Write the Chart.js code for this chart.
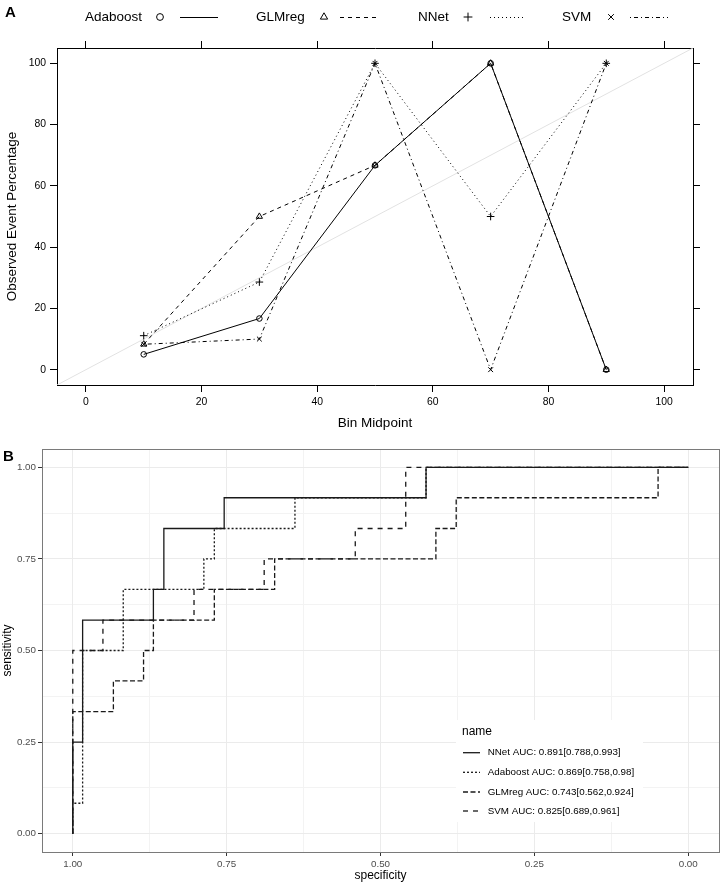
<!DOCTYPE html>
<html>
<head>
<meta charset="utf-8">
<script src="https://cdn.jsdelivr.net/npm/chart.js@4.4.1/dist/chart.umd.min.js"></script>
<style>
  html, body { margin: 0; padding: 0; background: #fff; }
  body { width: 720px; height: 883px; position: relative; overflow: hidden; font-family: "Liberation Sans", Arial, sans-serif; }
  #boxA { position: absolute; left: 0; top: 0; width: 720px; height: 440px; }
  #boxB { position: absolute; left: 0; top: 440px; width: 720px; height: 443px; }
  .tag { position: absolute; font-weight: bold; font-size: 15px; line-height: 15px; }
</style>
</head>
<body>
<div id="boxA"><canvas id="calChart"></canvas></div>
<div id="boxB"><canvas id="rocChart"></canvas></div>
<div class="tag" style="left:5px;top:4px">A</div>
<div class="tag" style="left:3px;top:448px">B</div>
<script>
// --- panel A: calibration (observed % per bin) ---
const binMid      = [10, 30, 50, 70, 90];
const adaboostObs = [5, 16.7, 66.7, 100, 0];
const glmregObs   = [8.3, 50, 66.7, 100, 0];
const nnetObs     = [11.1, 28.6, 100, 50, 100];
const svmObs      = [8.3, 10, 100, 0, 100];
const calTicks    = [0, 20, 40, 60, 80, 100];
const refLine     = [-5, 105];

// --- panel B: ROC curves (specificity, sensitivity at each step) ---
const rocTicks = [0, 0.25, 0.5, 0.75, 1];
const rocMinor = [0.125, 0.375, 0.625, 0.875];

const nnetSpec = [1, 1, 0.984, 0.984, 0.869, 0.869, 0.852, 0.852, 0.754, 0.754, 0.426, 0.426, 0];
const nnetSens = [0, 0.25, 0.25, 0.583, 0.583, 0.667, 0.667, 0.833, 0.833, 0.917, 0.917, 1, 1];

const adaSpec = [1, 1, 0.984, 0.984, 0.918, 0.918, 0.787, 0.787, 0.770, 0.770, 0.639, 0.639, 0.426, 0.426, 0];
const adaSens = [0, 0.083, 0.083, 0.5, 0.5, 0.667, 0.667, 0.75, 0.75, 0.833, 0.833, 0.917, 0.917, 1, 1];

const glmSpec = [1, 1, 0.934, 0.934, 0.885, 0.885, 0.869, 0.869, 0.770, 0.770, 0.672, 0.672, 0.410, 0.410, 0.377, 0.377, 0.049, 0.049, 0];
const glmSens = [0, 0.333, 0.333, 0.417, 0.417, 0.5, 0.5, 0.583, 0.583, 0.667, 0.667, 0.75, 0.75, 0.833, 0.833, 0.917, 0.917, 1, 1];

const svmSpec = [1, 1, 0.951, 0.951, 0.803, 0.803, 0.689, 0.689, 0.541, 0.541, 0.459, 0.459, 0];
const svmSens = [0, 0.5, 0.5, 0.583, 0.583, 0.667, 0.667, 0.75, 0.75, 0.833, 0.833, 1, 1];

const rocLabels = [
    'NNet AUC: 0.891[0.788,0.993]',
    'Adaboost AUC: 0.869[0.758,0.98]',
    'GLMreg AUC: 0.743[0.562,0.924]',
    'SVM AUC: 0.825[0.689,0.961]'
];

const FONT = '"Liberation Sans", Arial, Helvetica, sans-serif';
Chart.defaults.font.family = FONT;
Chart.defaults.animation = false;

const pts = (xs, ys) => xs.map((x, i) => ({ x: x, y: ys[i] }));
const setTicks = list => scale => { scale.ticks = list.map(v => ({ value: v })); };

// lattice style key on top of panel A: "label  marker  line"
const latticeKey = {
    id: 'latticeKey',
    afterDraw(chart, args, o) {
        const ctx = chart.ctx;
        ctx.save();
        ctx.font = o.fontSize + 'px ' + FONT;
        ctx.textBaseline = 'middle';
        ctx.textAlign = 'left';
        chart.data.datasets.filter(d => !d.keyless).forEach((ds, i) => {
            const c = o.cols[i];
            ctx.fillStyle = '#000';
            ctx.fillText(ds.label, c[0], o.y);
            ctx.strokeStyle = '#000';
            ctx.fillStyle = 'rgba(0,0,0,0)';
            ctx.lineWidth = 1;
            ctx.setLineDash([]);
            Chart.helpers.drawPoint(ctx, { pointStyle: ds.pointStyle, radius: ds.pointRadius + 0.6, rotation: 0, borderWidth: 1 }, c[1], o.y);
            ctx.setLineDash(ds.borderDash);
            ctx.beginPath();
            ctx.moveTo(c[2], o.y + 0.5);
            ctx.lineTo(c[3], o.y + 0.5);
            ctx.stroke();
        });
        ctx.restore();
    }
};

// ggplot style legend inside panel B
const rocKey = {
    id: 'rocKey',
    afterDraw(chart, args, o) {
        const ctx = chart.ctx;
        ctx.save();
        ctx.fillStyle = '#fff';
        ctx.fillRect(o.box[0], o.box[1], o.box[2], o.box[3]);
        ctx.fillStyle = '#000';
        ctx.textBaseline = 'middle';
        ctx.font = '12px ' + FONT;
        ctx.fillText(o.title, o.titleX, o.titleY);
        ctx.font = '9.8px ' + FONT;
        chart.data.datasets.forEach((ds, i) => {
            const y = o.rows[i];
            ctx.strokeStyle = ds.borderColor;
            ctx.lineWidth = ds.borderWidth;
            ctx.setLineDash(ds.borderDash);
            ctx.beginPath();
            ctx.moveTo(o.keyX[0], y);
            ctx.lineTo(o.keyX[1], y);
            ctx.stroke();
            ctx.fillStyle = '#000';
            ctx.fillText(ds.label, o.textX, y);
        });
        ctx.restore();
    }
};

// ---------- panel A ----------
const calDatasets = [
    { label: 'Adaboost', data: pts(binMid, adaboostObs), pointStyle: 'circle',   pointRadius: 2.8, borderDash: [],           order: 4 },
    { label: 'GLMreg',   data: pts(binMid, glmregObs),   pointStyle: 'triangle', pointRadius: 3.6, borderDash: [4, 4],       order: 3 },
    { label: 'NNet',     data: pts(binMid, nnetObs),     pointStyle: 'cross',    pointRadius: 3.8, borderDash: [1, 3],       order: 2 },
    { label: 'SVM',      data: pts(binMid, svmObs),      pointStyle: 'crossRot', pointRadius: 3.4, borderDash: [1, 3, 4, 3], order: 1 }
].map(d => Object.assign({
    showLine: true, borderColor: '#000', borderWidth: 1,
    pointBorderColor: '#000', pointBackgroundColor: 'rgba(0,0,0,0)', pointBorderWidth: 1
}, d));
calDatasets.push({
    label: '', keyless: true, data: pts(refLine, refLine), showLine: true,
    borderColor: '#e2e2e2', borderWidth: 1, pointRadius: 0, order: 10
});

const latAxis = (pos, size, shown) => ({
    type: 'linear', position: pos, min: -5, max: 105, bounds: 'data',
    afterBuildTicks: setTicks(calTicks),
    afterFit: s => { if (pos === 'top' || pos === 'bottom') s.height = size; else s.width = size; },
    grid: { drawOnChartArea: false, tickLength: 7, tickColor: '#000', tickWidth: 1 },
    border: { display: true, color: '#000', width: 1 },
    ticks: { display: shown, color: '#000', font: { size: 10.4 }, padding: 4, maxRotation: 0, autoSkip: false }
});

const axX = latAxis('bottom', 55, true);
axX.title = { display: true, text: 'Bin Midpoint', color: '#000', font: { size: 13.5 }, padding: { top: 0, bottom: 9 } };
const axY = latAxis('left', 57, true);
axY.title = { display: true, text: 'Observed Event Percentage', color: '#000', font: { size: 13.5 }, padding: { top: 4, bottom: 0 } };

new Chart(document.getElementById('calChart'), {
    type: 'scatter',
    data: { datasets: calDatasets },
    options: {
        responsive: true, maintainAspectRatio: false,
        layout: { padding: 0 },
        scales: {
            x: axX,
            xTop: latAxis('top', 48, false),
            y: axY,
            yRight: latAxis('right', 27, false)
        },
        plugins: {
            legend: { display: false },
            tooltip: { enabled: false },
            latticeKey: {
                fontSize: 13.5, y: 17,
                cols: [[85, 160, 180, 218], [256, 324, 340, 380], [418, 468, 490, 525], [562, 611, 630, 668]]
            }
        }
    },
    plugins: [latticeKey]
});

// ---------- panel B ----------
const rocStyle = { showLine: true, borderColor: '#1a1a1a', borderWidth: 1.3, pointRadius: 0, fill: false };
const rocDatasets = [
    Object.assign({ label: rocLabels[0], data: pts(nnetSpec, nnetSens), borderDash: [],       order: 4 }, rocStyle),
    Object.assign({ label: rocLabels[1], data: pts(adaSpec, adaSens),   borderDash: [2, 2],   order: 3 }, rocStyle),
    Object.assign({ label: rocLabels[2], data: pts(glmSpec, glmSens),   borderDash: [5, 2.5], order: 2 }, rocStyle),
    Object.assign({ label: rocLabels[3], data: pts(svmSpec, svmSens),   borderDash: [5, 5],   order: 1 }, rocStyle)
];

const bwMajor = (pos, size, title) => ({
    type: 'linear', position: pos, min: -0.05, max: 1.05, bounds: 'data',
    reverse: pos === 'bottom',
    afterBuildTicks: setTicks(rocTicks),
    afterFit: s => { if (pos === 'bottom') s.height = size; else s.width = size; },
    grid: { color: '#ebebeb', lineWidth: 1, tickLength: 4, tickColor: '#333', tickWidth: 1 },
    border: { display: true, color: '#7a7a7a', width: 1 },
    ticks: { color: '#4d4d4d', font: { size: 9.8 }, padding: 2, maxRotation: 0, autoSkip: false, callback: v => v.toFixed(2) },
    title: { display: true, text: title, color: '#000', font: { size: 12 }, padding: { top: 0, bottom: 0 } }
});
const bwMinor = (pos) => ({
    type: 'linear', position: pos, min: -0.05, max: 1.05, bounds: 'data',
    reverse: pos === 'top',
    afterBuildTicks: setTicks(rocMinor),
    afterFit: s => { if (pos === 'top') s.height = 0; else s.width = 0; },
    grid: { color: '#f3f3f3', lineWidth: 1, drawTicks: false },
    border: { display: true, color: '#7a7a7a', width: 1 },
    ticks: { display: false }
});

new Chart(document.getElementById('rocChart'), {
    type: 'scatter',
    data: { datasets: rocDatasets },
    options: {
        responsive: true, maintainAspectRatio: false,
        layout: { padding: { top: 9, right: 1, left: 0, bottom: 0 } },
        scales: {
            xMinor: bwMinor('top'),
            yMinor: bwMinor('right'),
            x: bwMajor('bottom', 31, 'specificity'),
            y: bwMajor('left', 42, 'sensitivity')
        },
        plugins: {
            legend: { display: false },
            tooltip: { enabled: false },
            rocKey: {
                box: [456, 280, 187, 102],
                title: 'name', titleX: 462, titleY: 292,
                rows: [312.7, 332.3, 352, 371],
                keyX: [463, 480], textX: 487.7
            }
        }
    },
    plugins: [rocKey]
});
</script>
</body>
</html>
